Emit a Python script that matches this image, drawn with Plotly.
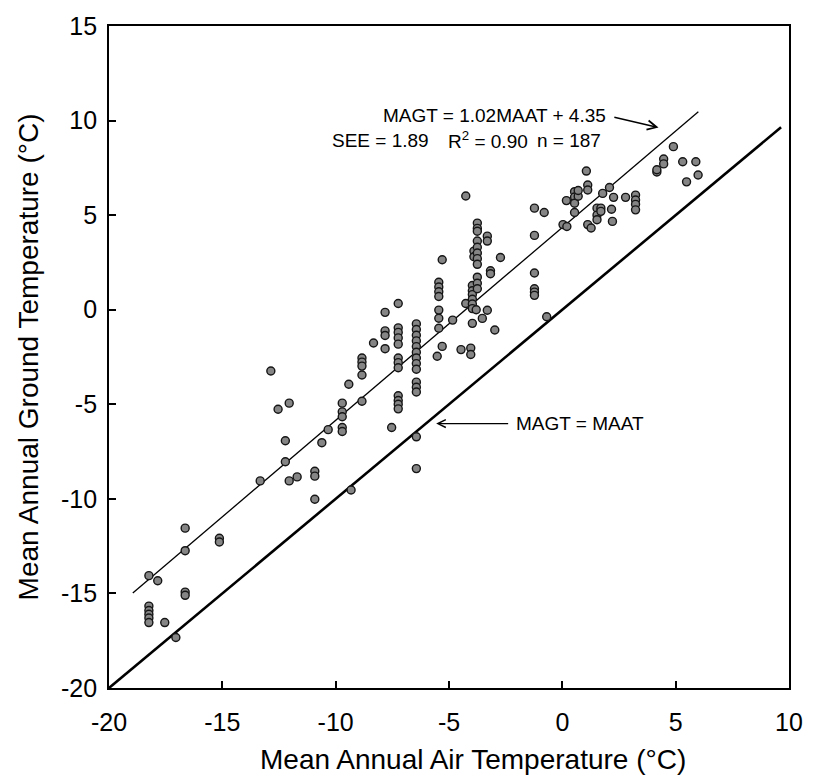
import plotly.graph_objects as go

# ---- data ----
maat = [
    -18.24, -18.24, -18.24, -18.24, -18.24, -18.24, -17.85, -17.54, -17.05,
    -16.64, -16.64, -16.64, -16.64, -15.13, -15.13,
    -13.33, -12.86, -12.54, -12.22, -12.22, -12.05, -12.05, -11.70,
    -10.92, -10.92, -10.92, -10.61, -10.33,
    -9.71, -9.71, -9.71, -9.71, -9.71, -9.42, -9.32,
    -8.84, -8.84, -8.84, -8.84, -8.84, -8.33,
    -7.82, -7.82, -7.82, -7.82, -7.53,
    -7.24, -7.24, -7.24, -7.24, -7.24, -7.24, -7.24, -7.24, -7.24, -7.24, -7.24, -7.24,
    -6.44, -6.44, -6.44, -6.44, -6.44, -6.44, -6.44, -6.44, -6.44, -6.44, -6.44, -6.44,
    -6.44, -6.44,
    -5.52, -5.45, -5.45, -5.45, -5.45, -5.45, -5.45, -5.45, -5.30, -5.30,
    -4.84, -4.47, -4.26, -4.26,
    -4.04, -4.04, -3.97, -3.97, -3.97, -3.97, -3.97, -3.97, -3.97,
    -3.90, -3.90, -3.80, -3.75, -3.75, -3.75, -3.75, -3.75, -3.75, -3.75, -3.75,
    -3.75, -3.75, -3.75, -3.53, -3.31, -3.31, -3.31, -3.17, -3.17, -2.98, -2.73,
    -1.23, -1.23, -1.23, -1.23, -1.23, -1.23, -0.80, -0.69,
    0.03, 0.18, 0.20, 0.54, 0.54, 0.54, 0.54, 0.70, 0.70,
    1.06, 1.12, 1.12, 1.12, 1.27, 1.53, 1.53, 1.53, 1.70, 1.70, 1.78,
    2.08, 2.17, 2.21, 2.26, 2.79, 3.23, 3.23, 3.23, 3.23,
    4.17, 4.17, 4.47, 4.47, 4.90, 5.31, 5.48, 5.89, 5.99,
]
magt = [
    -14.06, -15.67, -15.90, -16.10, -16.30, -16.54, -14.33, -16.54, -17.33,
    -11.55, -12.74, -14.93, -15.10, -12.08, -12.28,
    -9.05, -3.24, -5.26, -6.93, -8.04, -4.94, -9.05, -8.84,
    -8.54, -8.80, -10.02, -7.03, -6.34,
    -4.94, -5.40, -5.66, -6.23, -6.44, -3.94, -9.53,
    -2.55, -2.77, -2.98, -3.45, -4.84, -1.76,
    -0.14, -1.12, -1.36, -2.06, -6.23,
    0.33, -0.96, -1.20, -1.49, -1.82, -2.55, -2.80, -3.07, -4.55, -4.80, -5.00, -5.24,
    -0.75, -1.05, -1.35, -1.65, -1.95, -2.25, -2.55, -2.85, -3.15, -3.83, -4.10, -4.35,
    -6.72, -8.40,
    -2.46, 1.45, 1.20, 0.95, 0.70, -0.02, -0.45, -0.98, 2.64, -1.94,
    -0.55, -2.11, 6.01, 0.33,
    -2.03, -2.37, 1.28, 1.00, 0.80, 0.55, 0.30, 0.06, -0.72,
    3.10, 2.80, 0.00, 4.58, 4.30, 4.15, 3.63, 3.30, 3.00, 2.70, 2.40,
    1.72, 1.40, 1.11, -0.46, 3.89, 3.63, -0.03, 2.06, 1.90, -1.07, 2.76,
    5.37, 3.93, 1.94, 1.11, 0.93, 0.76, 5.14, -0.37,
    4.50, 5.77, 4.40, 5.14, 6.24, 5.96, 5.63, 6.00, 6.30,
    7.33, 6.59, 6.33, 4.50, 4.32, 5.37, 5.00, 4.76, 5.37, 5.20, 6.15,
    6.46, 5.31, 4.67, 5.94, 5.94, 6.06, 5.80, 5.57, 5.28,
    7.28, 7.40, 7.97, 7.71, 8.62, 7.82, 6.76, 7.82, 7.12,
]

fit_slope = 1.02
fit_intercept = 4.35
fit_x = [-18.95, 6.0]
fit_y = [fit_slope * v + fit_intercept for v in fit_x]

one_x = [-20.0, 9.65]
one_y = [-20.0, 9.65]

x_ticks = [-20, -15, -10, -5, 0, 5, 10]
y_ticks = [-20, -15, -10, -5, 0, 5, 10, 15]

FONT = "Arial, 'Liberation Sans', sans-serif"

# pixel -> data helpers for annotation placement
L, R, T, B = 109, 797, 17, 688
def px2x(p):
    return -20 + (p - L) / (R - L) * 30
def py2y(p):
    return 15 - (p - T) / (B - T) * 35

fig = go.Figure()

fig.add_trace(go.Scatter(
    x=one_x, y=one_y, mode="lines",
    line=dict(color="black", width=2.6), showlegend=False, hoverinfo="skip"))
fig.add_trace(go.Scatter(
    x=fit_x, y=fit_y, mode="lines",
    line=dict(color="black", width=1.3), showlegend=False, hoverinfo="skip"))
fig.add_trace(go.Scatter(
    x=maat, y=magt, mode="markers",
    marker=dict(size=8, color="#858585", line=dict(color="#151515", width=1.4)),
    showlegend=False))

txt_font = dict(family=FONT, size=19, color="black")
ann = []
# regression equation with arrow to the fitted line
ann.append(dict(x=px2x(665), y=py2y(120), xref="x", yref="y",
                ax=-51, ay=-12,
                text="MAGT = 1.02MAAT + 4.35", showarrow=True,
                xanchor="right", yanchor="middle",
                arrowhead=5, arrowsize=1.3, arrowwidth=1.4, arrowcolor="black",
                standoff=0, startstandoff=7, font=txt_font))
ann.append(dict(x=px2x(333), y=py2y(133), xref="x", yref="y",
                text="SEE = 1.89", showarrow=False,
                xanchor="left", yanchor="middle", font=txt_font))
ann.append(dict(x=px2x(450), y=py2y(133), xref="x", yref="y",
                text="R<sup>2</sup> = 0.90", showarrow=False,
                xanchor="left", yanchor="middle", font=txt_font))
ann.append(dict(x=px2x(609), y=py2y(133), xref="x", yref="y",
                text="n = 187", showarrow=False,
                xanchor="right", yanchor="middle", font=txt_font))
# 1:1 line label with arrow
ann.append(dict(x=px2x(440), y=py2y(420), xref="x", yref="y",
                ax=78, ay=0,
                text="MAGT = MAAT", showarrow=True,
                xanchor="left", yanchor="middle",
                arrowhead=5, arrowsize=1.3, arrowwidth=1.2, arrowcolor="black",
                standoff=0, startstandoff=6, font=txt_font))
# axis titles
ann.append(dict(x=(477 - L) / (R - L), y=(B - 760) / (B - T), xref="paper", yref="paper",
                text="Mean Annual Air Temperature (°C)", showarrow=False,
                xanchor="center", yanchor="middle",
                font=dict(family=FONT, size=28, color="black")))
ann.append(dict(x=(28 - L) / (R - L), y=(B - 352) / (B - T), xref="paper", yref="paper",
                text="Mean Annual Ground Temperature (°C)", showarrow=False,
                textangle=-90, xanchor="center", yanchor="middle",
                font=dict(family=FONT, size=28, color="black")))

fig.update_layout(
    width=815, height=783,
    margin=dict(l=L, r=815 - R, t=T, b=783 - B),
    paper_bgcolor="white", plot_bgcolor="white",
    annotations=ann,
    showlegend=False,
)
fig.update_xaxes(
    range=[-20, 10], tickvals=x_ticks, ticktext=[str(v) for v in x_ticks],
    ticks="inside", ticklen=7, tickwidth=1.5, tickcolor="black",
    showline=True, linecolor="black", linewidth=1.8, mirror=True,
    showgrid=False, zeroline=False, ticklabelstandoff=11,
    tickfont=dict(family=FONT, size=25, color="black"))
fig.update_yaxes(
    range=[-20, 15], tickvals=y_ticks, ticktext=[str(v) for v in y_ticks],
    ticks="inside", ticklen=7, tickwidth=1.5, tickcolor="black",
    showline=True, linecolor="black", linewidth=1.8, mirror=True,
    showgrid=False, zeroline=False, ticklabelstandoff=5,
    tickfont=dict(family=FONT, size=25, color="black"))

fig.write_html(
    "out.html",
    config={"displayModeBar": False},
    post_script="document.body.style.margin='0';document.body.style.overflow='hidden';",
)
